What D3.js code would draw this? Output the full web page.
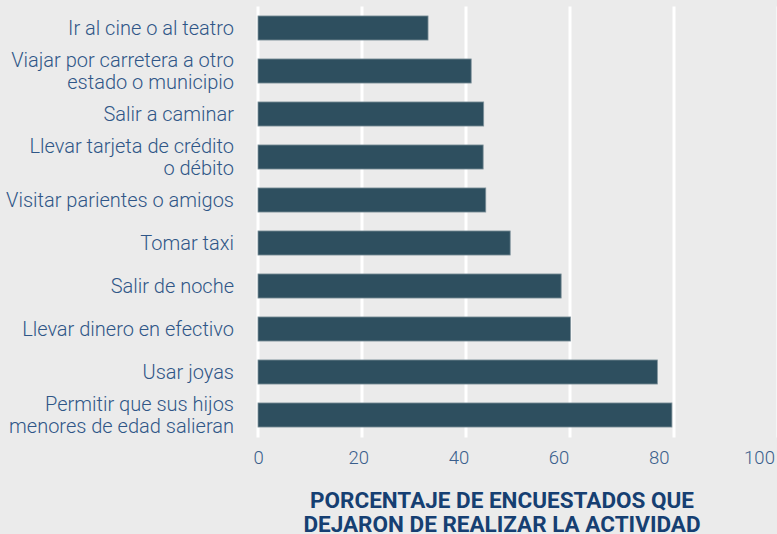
<!DOCTYPE html>
<html>
<head>
<meta charset="utf-8">
<script src="https://cdn.jsdelivr.net/npm/d3@7"></script>
<style>
  html, body { margin: 0; padding: 0; background: #ebebeb; }
  svg { display: block; }
</style>
</head>
<body>
<div id="chart"></div>
<script>
const categories = [
  ["Ir al cine o al teatro"],
  ["Viajar por carretera a otro", "estado o municipio"],
  ["Salir a caminar"],
  ["Llevar tarjeta de crédito", "o débito"],
  ["Visitar parientes o amigos"],
  ["Tomar taxi"],
  ["Salir de noche"],
  ["Llevar dinero en efectivo"],
  ["Usar joyas"],
  ["Permitir que sus hijos", "menores de edad salieran"]
];
const values = [32.7, 41.0, 43.4, 43.3, 43.8, 48.5, 58.3, 60.1, 76.8, 79.6];
const tickValues = [0, 20, 40, 60, 80, 100];
const axisTitle = ["PORCENTAJE DE ENCUESTADOS QUE", "DEJARON DE REALIZAR LA ACTIVIDAD"];

const W = 777, H = 534;
const svg = d3.select("#chart").append("svg").attr("width", W).attr("height", H);
svg.append("rect").attr("width", W).attr("height", H).attr("fill", "#ebebeb");

const keys = categories.map((c, i) => i);
const x = d3.scaleLinear().domain([0, 100]).range([258, 778]);
const xLab = d3.scaleLinear().domain([0, 100]).range([258, 759]);
const y = d3.scaleBand().domain(keys).range([6.5, 436.5]).paddingInner(0.44).paddingOuter(0.22);

// gridlines
svg.append("g").selectAll("line").data(tickValues).join("line")
  .attr("x1", d => x(d)).attr("x2", d => x(d))
  .attr("y1", y.range()[0]).attr("y2", y.range()[1] + 1)
  .attr("stroke", "#ffffff").attr("stroke-width", 3);

// bars
svg.append("g").selectAll("rect").data(values).join("rect")
  .attr("x", x(0)).attr("y", (d, i) => y(i))
  .attr("width", d => x(d) - x(0)).attr("height", y.bandwidth())
  .attr("fill", "#2e4f5f").attr("stroke", "#7f929b").attr("stroke-width", 0.8);

// category labels
const lab = svg.append("g").selectAll("text").data(categories).join("text")
  .attr("x", 234).attr("text-anchor", "end")
  .attr("font-family", "Roboto, sans-serif").attr("font-weight", 300)
  .attr("font-size", 20).attr("fill", "#2f5687");
lab.each(function(lines, i) {
  const cy = y(i) + y.bandwidth() / 2;
  const t = d3.select(this);
  lines.forEach((ln, j) => {
    const off = (j - (lines.length - 1) / 2) * 21.7;
    t.append("tspan").attr("x", 234).attr("y", cy + off).attr("dy", "0.35em").text(ln);
  });
});

// x axis tick labels
const xAxis = d3.axisBottom(xLab).tickValues(tickValues).tickSize(0).tickPadding(0);
const ax = svg.append("g").attr("transform", "translate(0,464)").call(xAxis);
ax.select(".domain").remove();
ax.selectAll("text").attr("font-family", "Roboto, sans-serif").attr("font-weight", 300)
  .attr("font-size", 18.5).attr("fill", "#3a5e8c").attr("y", 0).attr("dy", "0");

// axis title
svg.append("g").selectAll("text").data(axisTitle).join("text")
  .attr("x", 502).attr("y", (d, i) => 507.5 + i * 24.3)
  .attr("text-anchor", "middle")
  .attr("font-family", "Roboto, sans-serif").attr("font-weight", 700)
  .attr("font-size", 22.5).attr("fill", "#163f72")
  .text(d => d);
</script>
</body>
</html>
